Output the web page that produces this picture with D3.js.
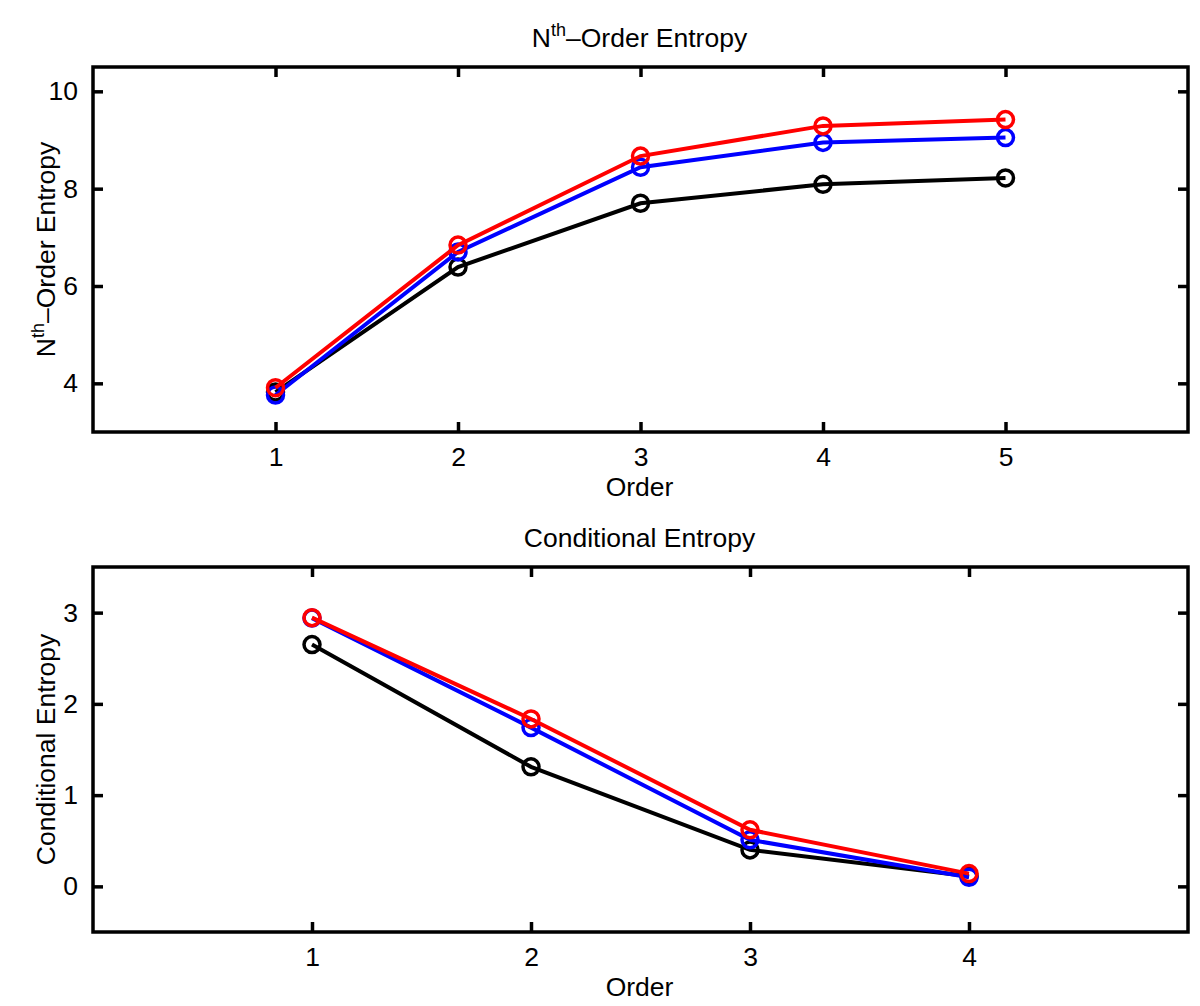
<!DOCTYPE html>
<html><head><meta charset="utf-8">
<script src="https://cdn.jsdelivr.net/npm/d3@7"></script>
<style>body{margin:0;background:#fff}svg{display:block;font-family:"Liberation Sans",Arial,sans-serif}</style>
</head><body>
<svg id="c" width="1200" height="1006"></svg>
<script>
const orders1 = [1, 2, 3, 4, 5];
const black1 = [3.82, 6.39, 7.70, 8.09, 8.22];
const blue1  = [3.76, 6.70, 8.44, 8.95, 9.05];
const red1   = [3.91, 6.84, 8.67, 9.29, 9.42];
const orders2 = [1, 2, 3, 4];
const black2 = [2.65, 1.31, 0.40, 0.11];
const blue2  = [2.94, 1.74, 0.51, 0.10];
const red2   = [2.945, 1.835, 0.62, 0.14];
const yTicks1 = [4, 6, 8, 10];
const yTicks2 = [0, 1, 2, 3];
const colors = ["#000000", "#0000ff", "#ff0000"];

const svg = d3.select("#c");
const FS = 26.5;

function panel(cfg) {
  const {top, bottom, left, right, xDomain, yDomain, xTicks, yTicks, series, xs, title, ylabel} = cfg;
  const x = d3.scaleLinear().domain(xDomain).range([left, right]);
  const y = d3.scaleLinear().domain(yDomain).range([bottom, top]);
  const g = svg.append("g");
  const tl = 10;
  const ax = (gen, tr) => {
    const a = g.append("g").attr("transform", tr).call(gen);
    a.select(".domain").remove();
    a.selectAll(".tick line").attr("stroke", "#000").attr("stroke-width", 3.5);
    a.selectAll("text").attr("font-size", FS).attr("fill", "#000").attr("font-family", '"Liberation Sans",Arial,sans-serif');
    return a;
  };
  ax(d3.axisBottom(x).tickValues(xTicks).tickSize(-tl).tickPadding(15).tickFormat(d3.format("d")), `translate(0,${bottom})`);
  ax(d3.axisTop(x).tickValues(xTicks).tickSize(-tl).tickFormat(""), `translate(0,${top})`);
  ax(d3.axisLeft(y).tickValues(yTicks).tickSize(-tl).tickPadding(15).tickFormat(d3.format("d")), `translate(${left},0)`);
  ax(d3.axisRight(y).tickValues(yTicks).tickSize(-tl).tickFormat(""), `translate(${right},0)`);
  g.append("rect").attr("x", left).attr("y", top).attr("width", right - left).attr("height", bottom - top)
    .attr("fill", "none").attr("stroke", "#000").attr("stroke-width", 3.5);
  const line = d3.line().x((d, i) => x(xs[i])).y(d => y(d));
  series.forEach((s, k) => {
    g.append("path").attr("d", line(s)).attr("fill", "none").attr("stroke", colors[k]).attr("stroke-width", 4);
    g.selectAll(null).data(s).enter().append("circle")
      .attr("cx", (d, i) => x(xs[i])).attr("cy", d => y(d)).attr("r", 8)
      .attr("fill", "none").attr("stroke", colors[k]).attr("stroke-width", 3.5);
  });
  g.append("text").attr("x", (left + right) / 2 - 1).attr("y", bottom + 64).attr("text-anchor", "middle")
    .attr("font-size", FS).text("Order");
  const t = g.append("text").attr("x", (left + right) / 2 - 1).attr("y", top - 20).attr("text-anchor", "middle").attr("font-size", FS);
  title(t);
  const yl = g.append("text").attr("transform", `translate(${left - 38},${(top + bottom) / 2}) rotate(-90)`)
    .attr("text-anchor", "middle").attr("font-size", FS);
  ylabel(yl);
}

const nth = t => {
  t.append("tspan").text("N");
  t.append("tspan").attr("font-size", 18).attr("dy", -11).text("th");
  t.append("tspan").attr("dy", 11).text("–Order Entropy");
};

panel({top: 67, bottom: 432, left: 93, right: 1188, xDomain: [0, 6], yDomain: [3, 10.5],
  xTicks: orders1, yTicks: yTicks1, xs: orders1, series: [black1, blue1, red1],
  title: nth, ylabel: nth});
panel({top: 567, bottom: 932, left: 93, right: 1188, xDomain: [0, 5], yDomain: [-0.5, 3.5],
  xTicks: orders2, yTicks: yTicks2, xs: orders2, series: [black2, blue2, red2],
  title: t => t.text("Conditional Entropy"), ylabel: t => t.text("Conditional Entropy")});
</script>
</body></html>
